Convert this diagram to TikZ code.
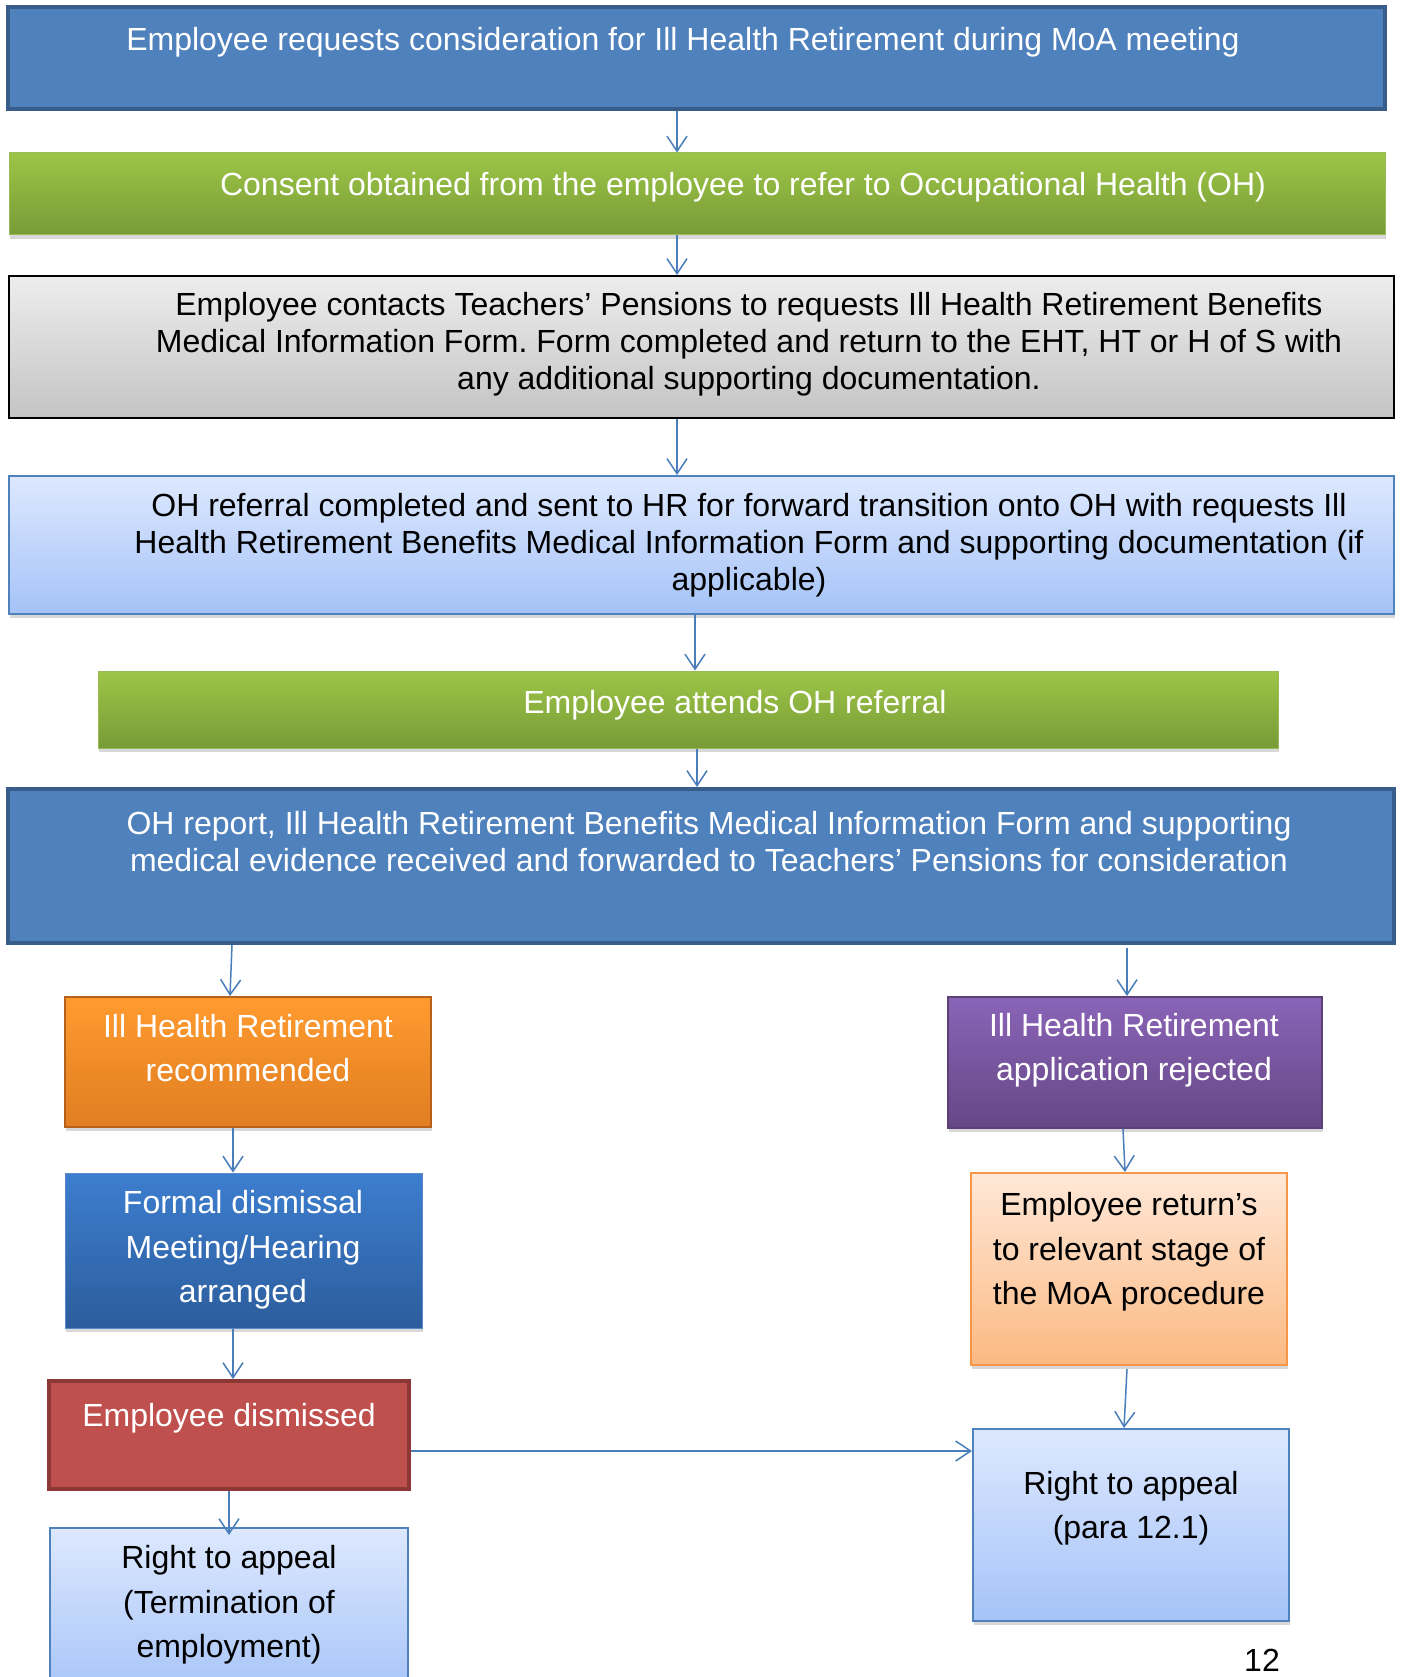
\documentclass[tikz,border=0pt]{standalone}
\usepackage{fontspec}
\setmainfont{Liberation Sans}
\frenchspacing
\usetikzlibrary{arrows.meta,shadows}
\definecolor{obluefill}{HTML}{4F81BD}
\definecolor{obluedraw}{HTML}{385D8A}
\definecolor{gtop}{HTML}{9DC547}
\definecolor{gbot}{HTML}{789B37}
\definecolor{gline}{HTML}{9BBB59}
\definecolor{greytop}{HTML}{EDEDED}
\definecolor{greybot}{HTML}{C4C4C4}
\definecolor{ltop}{HTML}{DDE8FE}
\definecolor{lbot}{HTML}{A5C3F8}
\definecolor{otop}{HTML}{FF9B2F}
\definecolor{obot}{HTML}{E07E22}
\definecolor{oline}{HTML}{B66019}
\definecolor{ftop}{HTML}{3D7ECF}
\definecolor{fbot}{HTML}{2C5D9C}
\definecolor{fline}{HTML}{5B8ACB}
\definecolor{redfill}{HTML}{C0504D}
\definecolor{redline}{HTML}{8C3836}
\definecolor{ptop}{HTML}{8A64B8}
\definecolor{pbot}{HTML}{664785}
\definecolor{pline}{HTML}{5C4076}
\definecolor{peachtop}{HTML}{FFE8D8}
\definecolor{peachbot}{HTML}{FBB982}
\definecolor{peachline}{HTML}{F79646}
\definecolor{arrowblue}{HTML}{4A7EBB}
\tikzset{
  boxbase/.style={rectangle, inner sep=0pt, anchor=center},
  shad/.style={drop shadow={opacity=0.3, shadow xshift=1pt, shadow yshift=-4pt}},
  darkblue/.style={boxbase, fill=obluefill, draw=obluedraw, line width=4pt},
  greenbox/.style={boxbase, shad, top color=gtop, bottom color=gbot, draw=gline, line width=1pt},
  greybox/.style={boxbase, top color=greytop, bottom color=greybot, draw=black, line width=2pt},
  lightblue/.style={boxbase, shad, top color=ltop, bottom color=lbot, draw=obluefill, line width=2pt},
  orangebox/.style={boxbase, shad, top color=otop, bottom color=obot, draw=oline, line width=2pt},
  formalbox/.style={boxbase, shad, top color=ftop, bottom color=fbot, draw=fline, line width=1pt},
  redbox/.style={boxbase, fill=redfill, draw=redline, line width=4pt},
  purplebox/.style={boxbase, shad, top color=ptop, bottom color=pbot, draw=pline, line width=2pt},
  peachbox/.style={boxbase, shad, top color=peachtop, bottom color=peachbot, draw=peachline, line width=2pt},
  bigtxt/.style={inner sep=0pt, align=center, font=\fontsize{32}{37}\selectfont},
  smalltxt/.style={inner sep=0pt, align=center, font=\fontsize{32}{44.5}\selectfont},
  wtxt/.style={text=white},
  btxt/.style={text=black},
  arr/.style={draw=arrowblue, line width=1.5pt, -{Straight Barb[length=15pt,width=20pt]}}
}
\begin{document}
\begin{tikzpicture}[x=1pt,y=-1pt]
\useasboundingbox (0,0) rectangle (1401,1677);
\fill[white] (0,0) rectangle (1401,1677);

% boxes
\node[darkblue, minimum width=1377pt, minimum height=102pt] (b1) at (696.5,58) {};
\node[greenbox, minimum width=1376pt, minimum height=82pt] (b2) at (697,194) {};
\node[greybox, minimum width=1385pt, minimum height=142pt] (b3) at (701.5,347) {};
\node[lightblue, minimum width=1385pt, minimum height=138pt] (b4) at (701.5,545) {};
\node[greenbox, minimum width=1180pt, minimum height=77pt] (b5) at (688,709.5) {};
\node[darkblue, minimum width=1386pt, minimum height=154pt] (b6) at (701,866) {};
\node[orangebox, minimum width=366pt, minimum height=130pt] (b7) at (248,1062) {};
\node[formalbox, minimum width=357pt, minimum height=155pt] (b8) at (243.5,1250.5) {};
\node[redbox, minimum width=360pt, minimum height=108pt] (b9) at (229,1435) {};
\node[lightblue, minimum width=358pt, minimum height=172pt] (b10) at (229,1614) {};
\node[purplebox, minimum width=374pt, minimum height=131pt] (b11) at (1135,1062.5) {};
\node[peachbox, minimum width=316pt, minimum height=192pt] (b12) at (1129,1269) {};
\node[lightblue, minimum width=316pt, minimum height=192pt] (b13) at (1131,1525) {};

% texts
\node[bigtxt, wtxt] (t1) at (683,42) {Employee requests consideration for Ill Health Retirement during MoA meeting};
\node[bigtxt, wtxt] (t2) at (743,187) {Consent obtained from the employee to refer to Occupational Health (OH)};
\node[bigtxt, btxt] (t3) at (749,344) {Employee contacts Teachers’ Pensions to requests Ill Health Retirement Benefits\\Medical Information Form. Form completed and return to the EHT, HT or H of S with\\any additional supporting documentation.};
\node[bigtxt, btxt] (t4) at (749,545) {OH referral completed and sent to HR for forward transition onto OH with requests Ill\\Health Retirement Benefits Medical Information Form and supporting documentation (if\\applicable)};
\node[bigtxt, wtxt] (t5) at (735,705) {Employee attends OH referral};
\node[bigtxt, wtxt] (t6) at (709,842) {OH report, Ill Health Retirement Benefits Medical Information Form and supporting\\medical evidence received and forwarded to Teachers’ Pensions for consideration};
\node[smalltxt, wtxt] (t7) at (248,1048) {Ill Health Retirement\\recommended};
\node[smalltxt, wtxt] (t8) at (243,1250) {Formal dismissal\\Meeting/Hearing\\arranged};
\node[smalltxt, wtxt] (t9) at (229,1418) {Employee dismissed};
\node[smalltxt, btxt] (t10) at (229,1605) {Right to appeal\\(Termination of\\employment)};
\node[smalltxt, wtxt] (t11) at (1134,1050) {Ill Health Retirement\\application rejected};
\node[smalltxt, btxt] (t12) at (1129,1252) {Employee return’s\\to relevant stage of\\the MoA procedure};
\node[smalltxt, btxt] (t13) at (1131,1508) {Right to appeal\\(para 12.1)};
\node[smalltxt, btxt] (t14) at (1262,1660) {12};

% connectors
\draw[arr] (b1.south -| 677,0) -- (b2.north -| 677,0);
\draw[arr] (b2.south -| 677,0) -- (b3.north -| 677,0);
\draw[arr] (b3.south -| 677,0) -- (b4.north -| 677,0);
\draw[arr] (b4.south -| 695,0) -- (b5.north -| 695,0);
\draw[arr] (b5.south -| 697,0) -- (b6.north -| 697,0);
\draw[arr] (b6.south -| 232,0) -- (b7.north -| 230,0);
\draw[arr] ([yshift=-3pt]b6.south -| 1127,0) -- (b11.north -| 1127,0);
\draw[arr] (b7.south -| 233,0) -- (b8.north -| 233,0);
\draw[arr] (b8.south -| 233,0) -- (b9.north -| 233,0);
\draw[arr] (b9.south -| 229,0) -- ([yshift=-8pt]b10.north -| 229,0);
\draw[arr] (b9.east |- 0,1451) -- (b13.west |- 0,1451);
\draw[arr] (b11.south -| 1123,0) -- (b12.north -| 1125,0);
\draw[arr] ([yshift=-3pt]b12.south -| 1127,0) -- (b13.north -| 1124,0);
\end{tikzpicture}
\end{document}
